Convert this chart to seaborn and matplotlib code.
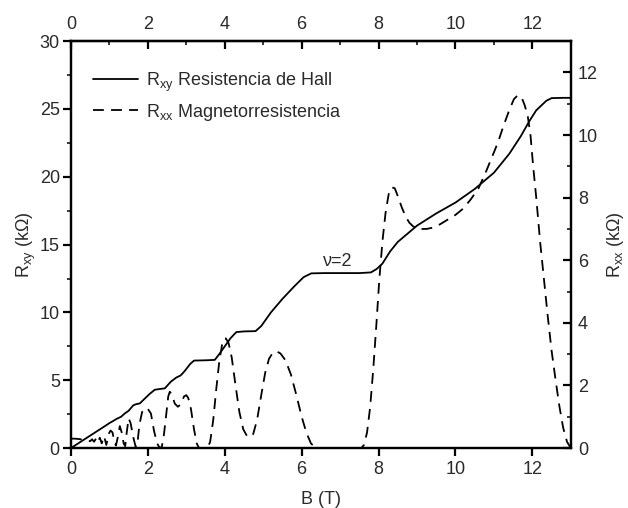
import matplotlib
matplotlib.use("Agg")
import matplotlib.pyplot as plt
from matplotlib.ticker import MultipleLocator
import pandas as pd
import seaborn as sns

# Hall resistance R_xy (kOhm) versus magnetic field B (T)
b_hall = [0.0, 0.3, 0.6, 0.9, 1.0, 1.1, 1.2, 1.3, 1.4, 1.5, 1.62, 1.7, 1.79,
          1.92, 2.05, 2.18, 2.3, 2.44, 2.6, 2.74, 2.85, 2.95, 3.1, 3.2, 3.5,
          3.74, 3.85, 4.0, 4.15, 4.3, 4.5, 4.8, 4.95, 5.2, 5.5, 5.8, 6.05,
          6.25, 6.6, 7.0, 7.5, 7.8, 7.95, 8.1, 8.3, 8.5, 8.75, 9.0, 9.5, 10.0,
          10.5, 11.0, 11.4, 11.7, 11.92, 12.1, 12.36, 12.5, 12.8, 13.0]
r_hall = [0.0, 0.55, 1.1, 1.65, 1.84, 2.0, 2.17, 2.3, 2.55, 2.75, 3.15, 3.24,
          3.29, 3.65, 4.0, 4.3, 4.35, 4.4, 4.9, 5.2, 5.35, 5.65, 6.2, 6.45,
          6.47, 6.5, 6.9, 7.5, 8.1, 8.55, 8.6, 8.62, 9.0, 10.0, 11.0, 11.9,
          12.6, 12.88, 12.9, 12.9, 12.9, 12.95, 13.2, 13.6, 14.5, 15.2, 15.8,
          16.4, 17.3, 18.1, 19.1, 20.3, 21.7, 23.0, 24.1, 24.9, 25.6, 25.8,
          25.82, 25.82]

# Longitudinal magnetoresistance R_xx (kOhm) versus B (T)
b_mr = [0.0, 0.1, 0.2, 0.3, 0.4, 0.5, 0.55, 0.6, 0.65, 0.7, 0.75, 0.8, 0.86,
        0.92, 0.98, 1.03, 1.08, 1.13, 1.17, 1.21, 1.27, 1.32, 1.37, 1.41,
        1.45, 1.5, 1.55, 1.62, 1.68, 1.72, 1.78, 1.85, 1.93, 2.0, 2.08, 2.16,
        2.24, 2.3, 2.36, 2.42, 2.48, 2.53, 2.57, 2.62, 2.7, 2.78, 2.86, 2.94,
        3.0, 3.05, 3.12, 3.2, 3.27, 3.33, 3.55, 3.62, 3.7, 3.78, 3.86, 3.93,
        3.98, 4.03, 4.1, 4.18, 4.28, 4.38, 4.48, 4.58, 4.66, 4.74, 4.84, 4.95,
        5.05, 5.15, 5.25, 5.35, 5.45, 5.58, 5.72, 5.86, 6.0, 6.12, 6.24, 6.35,
        6.45, 7.55, 7.62, 7.7, 7.78, 7.86, 7.94, 8.02, 8.1, 8.18, 8.26, 8.34,
        8.42, 8.5, 8.6, 8.7, 8.8, 8.9, 9.0, 9.1, 9.25, 9.4, 9.6, 9.8, 10.0,
        10.2, 10.4, 10.6, 10.8, 10.95, 11.1, 11.25, 11.4, 11.52, 11.62, 11.72,
        11.8, 11.88, 11.95, 12.02, 12.1, 12.2, 12.3, 12.4, 12.5, 12.6, 12.7,
        12.8, 12.9, 13.0]
r_mr = [0.30, 0.30, 0.29, 0.27, 0.25, 0.22, 0.28, 0.20, 0.30, 0.18, 0.33,
        0.15, 0.38, 0.10, 0.45, 0.56, 0.50, 0.20, 0.08, 0.30, 0.70, 0.50,
        0.15, 0.06, 0.50, 0.95, 0.80, 0.35, 0.05, 0.05, 0.75, 1.15, 1.28,
        1.25, 1.10, 0.55, 0.15, 0.02, 0.02, 0.45, 1.10, 1.65, 1.80, 1.72,
        1.42, 1.32, 1.40, 1.65, 1.69, 1.60, 1.25, 0.60, 0.15, 0.0, 0.0, 0.20,
        0.90, 1.90, 2.80, 3.30, 3.50, 3.50, 3.35, 2.90, 2.00, 1.15, 0.60,
        0.38, 0.35, 0.45, 0.90, 1.70, 2.40, 2.85, 3.05, 3.09, 3.02, 2.80,
        2.35, 1.70, 1.00, 0.50, 0.15, 0.02, 0.0, 0.0, 0.10, 0.50, 1.30, 2.50,
        3.90, 5.40, 6.60, 7.50, 8.10, 8.33, 8.30, 8.05, 7.70, 7.40, 7.20,
        7.08, 7.02, 7.00, 7.00, 7.04, 7.15, 7.30, 7.45, 7.65, 7.95, 8.30,
        8.85, 9.30, 9.75, 10.30, 10.80, 11.15, 11.27, 11.20, 10.95, 10.60,
        10.00, 9.00, 8.00, 6.60, 5.40, 4.20, 3.10, 2.20, 1.35, 0.65, 0.20, 0.0]

b_ticks = [0, 2, 4, 6, 8, 10, 12]
rxy_ticks = [0, 5, 10, 15, 20, 25, 30]
rxx_ticks = [0, 2, 4, 6, 8, 10, 12]

hall = pd.DataFrame({"B": b_hall, "R": r_hall})
mr = pd.DataFrame({"B": b_mr, "R": r_mr})

sns.set_style("white")
plt.rcParams["font.family"] = ["Liberation Sans", "DejaVu Sans"]
plt.rcParams["mathtext.fontset"] = "custom"
plt.rcParams["mathtext.rm"] = "Liberation Sans"
plt.rcParams["mathtext.it"] = "Liberation Sans:italic"
plt.rcParams["mathtext.default"] = "regular"
plt.rcParams["axes.linewidth"] = 1.6

FS = 13
TXT = "#2a2a2a"

fig = plt.figure(figsize=(6.28, 5.08), dpi=100)
ax = fig.add_axes([0.113, 0.118, 0.796, 0.801])
ax2 = ax.twinx()

sns.lineplot(data=hall, x="B", y="R", ax=ax, color="black", linewidth=1.3,
             sort=False, legend=False)
sns.lineplot(data=mr, x="B", y="R", ax=ax2, color="black", linewidth=1.3,
             sort=False, legend=False, linestyle=(0, (6, 4)))

ax.set_xlim(0, 13)
ax.set_ylim(0, 30)
ax2.set_ylim(0, 13)

ax.set_xticks(b_ticks)
ax.set_yticks(rxy_ticks)
ax2.set_yticks(rxx_ticks)
ax.xaxis.set_minor_locator(MultipleLocator(1))
ax.yaxis.set_minor_locator(MultipleLocator(2.5))
ax2.yaxis.set_minor_locator(MultipleLocator(1))

tick_kw = dict(labelsize=FS, width=1.6, color="black", labelcolor=TXT)
ax.tick_params(axis="x", which="major", direction="out", length=5.5, pad=4, **tick_kw)
ax.tick_params(axis="y", which="major", direction="out", length=5.5, pad=2.5, **tick_kw)
ax.tick_params(axis="both", which="minor", direction="out", length=3, width=1.3)
ax.tick_params(axis="x", bottom=True, top=False)
ax.tick_params(axis="y", left=True, right=False)
ax2.tick_params(axis="y", which="major", direction="in", length=5.5, pad=5, **tick_kw)
ax2.tick_params(axis="y", which="minor", direction="in", length=3, width=1.3)

top = ax.secondary_xaxis("top")
top.set_xticks(b_ticks)
top.xaxis.set_minor_locator(MultipleLocator(1))
top.tick_params(axis="x", which="major", direction="in", length=5.5, pad=6, **tick_kw)
top.tick_params(axis="x", which="minor", direction="in", length=3, width=1.3)

for a in (ax, ax2):
    for s in a.spines.values():
        s.set_linewidth(1.6)
        s.set_color("black")

ax.set_xlabel("B (T)", fontsize=FS, color=TXT, labelpad=9)
ax.set_ylabel("R$_{xy}$ (kΩ)", fontsize=FS, color=TXT, labelpad=1.5)
ax2.set_ylabel("R$_{xx}$ (kΩ)", fontsize=FS, color=TXT, labelpad=5)

ax.text(6.95, 13.75, "ν=2", fontsize=FS, color=TXT, ha="center", va="center")

h1 = ax.get_lines()[0]
h2 = ax2.get_lines()[0]
ax2.legend([h1, h2], ["R$_{xy}$ Resistencia de Hall", "R$_{xx}$ Magnetorresistencia"],
           loc="upper left", bbox_to_anchor=(0.012, 0.968), frameon=False,
           fontsize=FS, handlelength=2.5, handletextpad=0.4, labelspacing=0.45,
           labelcolor=TXT)

fig.savefig("out.png", dpi=100)
